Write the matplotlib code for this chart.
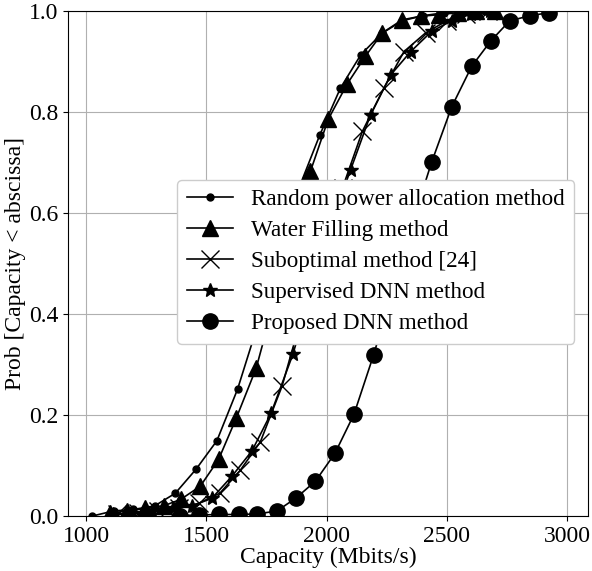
import matplotlib
matplotlib.use("Agg")
import matplotlib.pyplot as plt

plt.rcParams['font.family'] = ['Liberation Serif', 'DejaVu Serif']
plt.rcParams['mathtext.fontset'] = 'stix'

# Random power allocation method
rand_x = [1026, 1114, 1197, 1285, 1371, 1458, 1544, 1630, 1715, 1800, 1886, 1972,
          2058, 2143, 2230, 2315, 2400, 2490, 2570, 2660]
rand_y = [0.0, 0.010, 0.013, 0.020, 0.045, 0.093, 0.149, 0.251, 0.38, 0.52, 0.65, 0.754,
          0.847, 0.913, 0.955, 0.980, 0.990, 0.996, 0.999, 1.0]

# Water Filling method
wf_x = [1100, 1170, 1246, 1322, 1394, 1475, 1551, 1624, 1707, 1780, 1857, 1933,
        2007, 2086, 2162, 2232, 2315, 2392, 2467, 2545, 2620, 2700]
wf_y = [0.005, 0.010, 0.015, 0.020, 0.033, 0.059, 0.112, 0.193, 0.292, 0.42, 0.55, 0.682,
        0.785, 0.855, 0.910, 0.956, 0.982, 0.989, 0.992, 0.996, 0.999, 1.0]

# Suboptimal method [24]
sub_x = [1130, 1215, 1300, 1385, 1468, 1556, 1642, 1725, 1815, 1900, 1985, 2067,
         2149, 2239, 2322, 2412, 2500, 2580, 2670]
sub_y = [0.003, 0.006, 0.010, 0.015, 0.025, 0.045, 0.091, 0.147, 0.257, 0.40, 0.53, 0.65,
         0.761, 0.847, 0.919, 0.956, 0.980, 0.993, 1.0]

# Supervised DNN method
sup_x = [1110, 1190, 1275, 1360, 1440, 1523, 1607, 1690, 1769, 1860, 1940, 2020,
         2100, 2183, 2267, 2350, 2437, 2520, 2600, 2680]
sup_y = [0.003, 0.006, 0.010, 0.015, 0.020, 0.035, 0.079, 0.129, 0.203, 0.320, 0.45, 0.58,
         0.685, 0.794, 0.873, 0.919, 0.959, 0.980, 0.993, 1.0]

# Proposed DNN method
prop_x = [1390, 1471, 1551, 1635, 1711, 1794, 1874, 1954, 2035, 2114, 2196, 2276,
          2357, 2437, 2521, 2604, 2683, 2762, 2846, 2925]
prop_y = [0.001, 0.002, 0.003, 0.003, 0.004, 0.010, 0.036, 0.069, 0.124, 0.201, 0.319, 0.45,
          0.58, 0.70, 0.81, 0.89, 0.94, 0.98, 0.99, 0.996]

labels = ["Random power allocation method", "Water Filling method",
          "Suboptimal method [24]", "Supervised DNN method", "Proposed DNN method"]

fig = plt.figure(figsize=(5.92, 5.71), dpi=100)
ax = fig.add_axes([0.115, 0.0963, 0.878, 0.885])

lw = 1.2
ax.plot(rand_x, rand_y, '-', color='k', lw=lw, marker='o', ms=5, label=labels[0], zorder=3)
ax.plot(wf_x, wf_y, '-', color='k', lw=lw, marker='^', ms=11, label=labels[1], zorder=3)
ax.plot(sub_x, sub_y, '-', color='k', lw=lw, marker='x', ms=13, mew=1.0, label=labels[2], zorder=3)
ax.plot(sup_x, sup_y, '-', color='k', lw=lw, marker='*', ms=10, label=labels[3], zorder=3)
ax.plot(prop_x, prop_y, '-', color='k', lw=lw, marker='o', ms=11, label=labels[4], zorder=3)

ax.set_xlim(925, 3087)
ax.set_ylim(0, 1.0)
ax.set_xticks([1000, 1500, 2000, 2500, 3000])
ax.set_yticks([0.0, 0.2, 0.4, 0.6, 0.8, 1.0])
ax.set_yticklabels(["0.0", "0.2", "0.4", "0.6", "0.8", "1.0"])
ax.tick_params(labelsize=17)
ax.grid(True, color='#b0b0b0', lw=0.8)
ax.set_axisbelow(True)
ax.set_xlabel("Capacity (Mbits/s)", fontsize=17, labelpad=0)
ax.set_ylabel("Prob [Capacity < abscissa]", fontsize=17, labelpad=2)

leg = ax.legend(loc='upper left', bbox_to_anchor=(0.21, 0.665), borderaxespad=0,
                fontsize=16.7, handlelength=2.0, handletextpad=0.8, labelspacing=0.42,
                borderpad=0.4, framealpha=1.0)
leg.set_zorder(5)

fig.savefig("out.png", dpi=100)
